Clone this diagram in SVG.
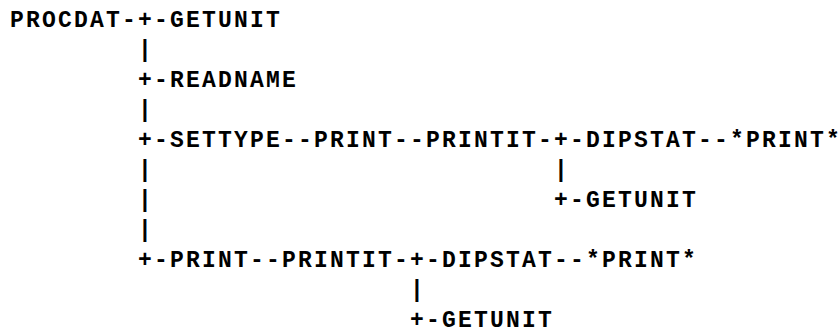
<svg xmlns="http://www.w3.org/2000/svg" width="840" height="331" viewBox="0 0 840 331">
<style>
text{font-family:"Liberation Mono","Courier New",monospace;font-weight:bold;font-size:23px;fill:#000;text-anchor:middle}
</style>
<rect width="840" height="331" fill="#fff"/>
<g id="connectors">
<text x="129 145 161" y="27">-+-</text>
<text x="145" y="57">|</text>
<text x="145 161" y="87">+-</text>
<text x="145" y="117">|</text>
<text x="145 161" y="147">+-</text>
<text x="289 305" y="147">--</text>
<text x="401 417" y="147">--</text>
<text x="545 561 577" y="147">-+-</text>
<text x="705 721" y="147">--</text>
<text x="145" y="177">|</text>
<text x="561" y="177">|</text>
<text x="145" y="207">|</text>
<text x="561 577" y="207">+-</text>
<text x="145" y="237">|</text>
<text x="145 161" y="267">+-</text>
<text x="257 273" y="267">--</text>
<text x="401 417 433" y="267">-+-</text>
<text x="561 577" y="267">--</text>
<text x="417" y="297">|</text>
<text x="417 433" y="327">+-</text>
</g>
<g id="n1"><text x="17 33 49 65 81 97 113" y="27">PROCDAT</text></g>
<g id="n2"><text x="177 193 209 225 241 257 273" y="27">GETUNIT</text></g>
<g id="n3"><text x="177 193 209 225 241 257 273 289" y="87">READNAME</text></g>
<g id="n4"><text x="177 193 209 225 241 257 273" y="147">SETTYPE</text></g>
<g id="n5"><text x="321 337 353 369 385" y="147">PRINT</text></g>
<g id="n6"><text x="433 449 465 481 497 513 529" y="147">PRINTIT</text></g>
<g id="n7"><text x="593 609 625 641 657 673 689" y="147">DIPSTAT</text></g>
<g id="n8"><text x="737 753 769 785 801 817 833" y="147">*PRINT*</text></g>
<g id="n9"><text x="593 609 625 641 657 673 689" y="207">GETUNIT</text></g>
<g id="n10"><text x="177 193 209 225 241" y="267">PRINT</text></g>
<g id="n11"><text x="289 305 321 337 353 369 385" y="267">PRINTIT</text></g>
<g id="n12"><text x="449 465 481 497 513 529 545" y="267">DIPSTAT</text></g>
<g id="n13"><text x="593 609 625 641 657 673 689" y="267">*PRINT*</text></g>
<g id="n14"><text x="449 465 481 497 513 529 545" y="327">GETUNIT</text></g>
</svg>
